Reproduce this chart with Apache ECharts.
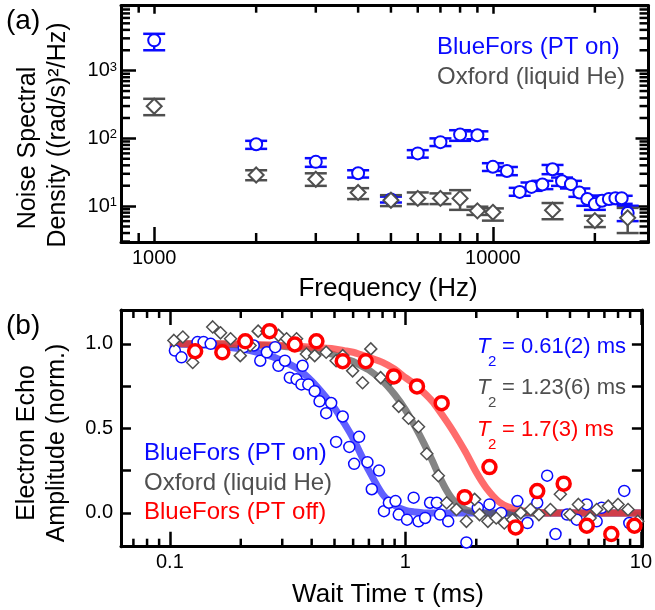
<!DOCTYPE html>
<html>
<head>
<meta charset="utf-8">
<script src="https://cdn.jsdelivr.net/npm/echarts@6.0.0/dist/echarts.min.js"></script>
<style>
html,body{margin:0;padding:0;background:#fff}
#main{width:655px;height:610px}
</style>
</head>
<body>
<div id="main"></div>
<script>
// (a) noise spectral density: [Hz, value, errLow, errHigh]
var blueNoise = [
  [1000, 2800, 2000, 3500], [2000, 82, 70, 92], [3000, 45, 38, 51], [4000, 30.5, 26.4, 33.8],
  [5000, 12.5, 11.3, 13.8], [6000, 60, 52, 67], [7000, 88, 77, 100], [8000, 114, 92, 132],
  [9000, 111, 97, 127], [10000, 38, 33, 43], [11000, 33, 28.6, 37.8], [12000, 16.2, 14.2, 18.6],
  [13000, 19.2, 16.8, 22.3], [14000, 20.9, 17.8, 23.6], [15000, 35, 29.6, 40.5], [16000, 23.3, 19.9, 26.4],
  [17000, 21.1, 18.2, 23.6], [18000, 15.9, 13.7, 18.2], [19000, 12.7, 10.1, 14.2], [20000, 10.7, 8.8, 12.7],
  [21000, 12.0, 10.8, 14.2], [22000, 12.7, 10.8, 14.2], [23000, 13.1, 10.8, 14.2], [24000, 13.1, 10.8, 14.2],
  [25000, 7.9, 6.0, 10.1]
];
var grayNoise = [
  [1000, 298, 220, 384], [2000, 28.8, 24.1, 33.8], [3000, 24.9, 19.9, 30.5], [4000, 15.9, 12.7, 18.4],
  [5000, 12.2, 10.0, 14.5], [6000, 13.0, 10.7, 15.9], [7000, 13.0, 10.7, 15.4], [8000, 13.0, 8.8, 17.2],
  [9000, 8.5, 7.4, 9.8], [10000, 8.1, 6.1, 9.25], [15000, 8.7, 6.4, 11.1], [20000, 6.1, 4.9, 7.2],
  [25000, 6.7, 4.0, 9.4]
];

// (b) echo decay: [ms, amplitude]
var blueEcho = [
  [0.105, 0.96], [0.112, 0.92], [0.131, 1.01], [0.139, 1.01], [0.149, 1.0], [0.167, 0.95], [0.206, 0.98],
  [0.227, 0.99], [0.242, 0.90], [0.258, 0.95], [0.28, 0.98], [0.289, 0.87], [0.308, 0.90], [0.323, 0.80],
  [0.345, 0.79], [0.362, 0.76], [0.366, 0.87], [0.387, 0.76], [0.412, 0.72], [0.432, 0.66], [0.461, 0.59],
  [0.484, 0.65], [0.508, 0.42], [0.542, 0.57], [0.578, 0.39], [0.606, 0.29], [0.636, 0.45], [0.69, 0.30],
  [0.72, 0.14], [0.773, 0.25], [0.811, 0.01], [0.851, 0.06], [0.908, 0.07], [0.937, -0.01], [1.016, -0.04],
  [1.084, 0.09], [1.137, -0.05], [1.213, -0.03], [1.273, 0.06], [1.359, 0.06], [1.403, -0.01], [1.52, -0.05],
  [1.816, -0.175], [2.03, 0.03], [2.275, 0.05], [2.55, 0.0], [2.99, 0.07], [3.30, -0.06], [3.63, 0.06],
  [4.0, 0.22], [4.34, -0.125], [4.86, -0.01], [5.34, -0.04], [5.89, 0.05], [6.49, -0.05], [6.81, 0.03],
  [8.5, 0.13], [8.93, -0.06]
];
var grayEcho = [
  [0.104, 1.02], [0.1135, 1.04], [0.125, 0.89], [0.152, 1.10], [0.164, 1.065], [0.181, 1.03], [0.199, 0.93],
  [0.219, 0.99], [0.237, 1.075], [0.258, 1.075], [0.289, 1.05], [0.313, 1.03], [0.345, 1.03], [0.38, 0.94],
  [0.412, 0.93], [0.461, 0.95], [0.508, 0.90], [0.542, 0.93], [0.597, 0.84], [0.658, 0.77], [0.713, 0.97],
  [0.785, 0.80], [0.865, 0.79], [0.937, 0.63], [1.032, 0.56], [1.137, 0.51], [1.233, 0.35], [1.38, 0.22],
  [1.497, 0.06], [1.648, 0.02], [1.816, -0.05], [1.968, 0.08], [2.065, -0.01], [2.24, -0.05], [2.43, -0.03],
  [2.63, -0.06], [2.85, -0.04], [3.09, 0.0], [3.40, 0.02], [3.69, -0.01], [4.13, 0.02], [4.55, 0.11],
  [5.0, -0.01], [5.43, 0.05], [6.09, -0.03], [6.49, 0.02], [7.27, 0.04], [8.0, 0.05], [8.82, 0.02], [9.7, -0.05]
];
var redEcho = [
  [0.128, 0.956], [0.167, 0.95], [0.209, 1.015], [0.265, 1.075], [0.339, 0.996], [0.419, 1.015],
  [0.542, 0.897], [0.679, 0.897], [0.893, 0.807], [1.12, 0.748], [1.426, 0.649], [1.786, 0.093],
  [2.275, 0.271], [2.94, -0.086], [3.63, 0.129], [4.7, 0.173], [5.89, -0.076], [7.49, -0.125], [9.39, -0.076]
];

// fit curves
var fitTimes = [0.1, 0.15, 0.2, 0.25, 0.3, 0.35, 0.4, 0.45, 0.5, 0.55, 0.6, 0.65, 0.7, 0.8, 0.9, 1.0,
  1.1, 1.2, 1.3, 1.4, 1.5, 1.6, 1.8, 2.0, 2.2, 2.5, 2.8, 3.2, 4, 6, 10];
var blueFit = [1.0, 0.99, 0.97, 0.94, 0.9, 0.85, 0.78, 0.7, 0.62, 0.53, 0.44, 0.34, 0.25, 0.11, 0.045, 0.015,
  0.005, 0, 0, 0, 0, 0, 0, 0, 0, 0, 0, 0, 0, 0, 0];
var grayFit = [1.0, 1.0, 0.995, 0.99, 0.985, 0.975, 0.965, 0.95, 0.935, 0.915, 0.895, 0.87, 0.845, 0.78, 0.70, 0.61,
  0.51, 0.41, 0.31, 0.21, 0.13, 0.075, 0.02, 0.005, 0, 0, 0, 0, 0, 0, 0];
var redFit = [1.0, 1.0, 1.0, 0.995, 0.99, 0.985, 0.98, 0.975, 0.97, 0.96, 0.95, 0.935, 0.92, 0.89, 0.85, 0.80,
  0.76, 0.71, 0.66, 0.6, 0.54, 0.48, 0.36, 0.24, 0.15, 0.065, 0.03, 0.01, 0, 0, 0];

// minor tick values
var freqMinor = [900, 2000, 3000, 4000, 5000, 6000, 7000, 8000, 9000, 20000];
var psdMinor = [3, 4, 5, 6, 7, 8, 9, 20, 30, 40, 50, 60, 70, 80, 90, 200, 300, 400, 500, 600, 700, 800, 900,
  2000, 3000, 4000, 5000, 6000, 7000, 8000, 9000];
var timeMinor = [0.07, 0.08, 0.09, 0.2, 0.3, 0.4, 0.5, 0.6, 0.7, 0.8, 0.9, 2, 3, 4, 5, 6, 7, 8, 9];
var echoTicks = [0, 0.25, 0.5, 0.75, 1];
var echoLabels = [0, 0.5, 1];

var FONT = 'Liberation Sans, Arial, Helvetica, sans-serif';
var BLUE = '#0a0aff', GRAY = '#4f4f4f', RED = '#ff0000';
var rangeFreq = [798, 28800], rangePsd = [2.95, 9100];
var rangeTime = [0.062, 10.1], rangeEcho = [-0.2, 1.2];

var myChart = echarts.init(document.getElementById('main'));

function axis(type, grid, pos, range, label, tickLen) {
  return {
    type: type, gridIndex: grid, position: pos, min: range[0], max: range[1],
    axisLine: {show: true, onZero: false, lineStyle: {color: '#000', width: 3}},
    axisTick: {show: true, inside: true, length: tickLen, lineStyle: {color: '#000', width: 2.5}},
    axisLabel: label ? label : {show: false},
    splitLine: {show: false}
  };
}

var plainLabel = function (fmt, margin) {
  return {show: true, fontSize: 20, fontFamily: FONT, color: '#000', margin: margin,
    showMinLabel: false, showMaxLabel: false, hideOverlap: false, formatter: fmt};
};

var xFreqLabel = plainLabel(function (v) { return String(v); }, 6);
var xTimeLabel = plainLabel(function (v) { return String(v); }, 6);
var yPsdLabel = {
  show: true, margin: 4, showMinLabel: false, showMaxLabel: false,
  formatter: function (v) { return '{b|10}{s|' + Math.round(Math.log10(v)) + '}'; },
  rich: {
    b: {fontSize: 20, fontFamily: FONT, color: '#000'},
    s: {fontSize: 13, fontFamily: FONT, color: '#000', verticalAlign: 'top'}
  }
};
var yEchoLabel = {show: true, fontSize: 20, fontFamily: FONT, color: '#000', margin: 8,
  customValues: echoLabels, formatter: function (v) { return v.toFixed(1); }};

// error bars with wide caps
function errBar(color) {
  return function (params, api) {
    var x = api.value(0);
    var lo = api.coord([x, api.value(1)]);
    var hi = api.coord([x, api.value(2)]);
    var w = 11;
    var st = {stroke: color, lineWidth: 2.5, fill: null};
    return {type: 'group', children: [
      {type: 'line', shape: {x1: lo[0], y1: lo[1], x2: hi[0], y2: hi[1]}, style: st},
      {type: 'line', shape: {x1: lo[0] - w, y1: lo[1], x2: lo[0] + w, y2: lo[1]}, style: st},
      {type: 'line', shape: {x1: hi[0] - w, y1: hi[1], x2: hi[0] + w, y2: hi[1]}, style: st}
    ]};
  };
}

// log minor ticks on both x borders / both y borders
function xMinor(lenBottom, lenTop) {
  return function (params, api) {
    var cs = params.coordSys;
    var x = api.coord([api.value(0), api.value(1)])[0];
    var st = {stroke: '#000', lineWidth: 2.5};
    return {type: 'group', children: [
      {type: 'line', shape: {x1: x, y1: cs.y + cs.height, x2: x, y2: cs.y + cs.height - lenBottom}, style: st},
      {type: 'line', shape: {x1: x, y1: cs.y, x2: x, y2: cs.y + lenTop}, style: st}
    ]};
  };
}
function yMinor(len) {
  return function (params, api) {
    var cs = params.coordSys;
    var y = api.coord([api.value(0), api.value(1)])[1];
    var st = {stroke: '#000', lineWidth: 2.5};
    return {type: 'group', children: [
      {type: 'line', shape: {x1: cs.x, y1: y, x2: cs.x + len, y2: y}, style: st},
      {type: 'line', shape: {x1: cs.x + cs.width, y1: y, x2: cs.x + cs.width - len, y2: y}, style: st}
    ]};
  };
}

function fitLine(values, color) {
  return {
    type: 'line', xAxisIndex: 2, yAxisIndex: 2, smooth: 0.3, showSymbol: false, silent: true,
    data: fitTimes.map(function (t, i) { return [t, values[i]]; }),
    lineStyle: {color: color, width: 7, opacity: 0.72}, z: 1
  };
}

function marks(data, symbol, size, color, width, x, y) {
  return {
    type: 'scatter', xAxisIndex: x, yAxisIndex: y, symbol: symbol, symbolSize: size, data: data,
    itemStyle: {color: '#fff', borderColor: color, borderWidth: width, opacity: 1}, z: 3, silent: true
  };
}

function txt(s, x, y, color, size, extra) {
  var st = {text: s, fill: color, fontSize: size, fontFamily: FONT, align: 'left', verticalAlign: 'middle'};
  for (var k in extra || {}) st[k] = extra[k];
  return {type: 'text', x: x, y: y, style: st, z: 50};
}

var texts = [
  txt('(a)', 6, 21, '#000', 28),
  txt('(b)', 6, 326, '#000', 28),
  {type: 'text', x: 28, y: 148, rotation: Math.PI / 2, style: {text: 'Noise Spectral', fill: '#000', fontSize: 25, fontFamily: FONT, align: 'center', verticalAlign: 'middle'}},
  {type: 'text', x: 58, y: 135, rotation: Math.PI / 2, style: {text: 'Density ((rad/s)\u00b2/Hz)', fill: '#000', fontSize: 25, fontFamily: FONT, align: 'center', verticalAlign: 'middle'}},
  {type: 'text', x: 27, y: 443, rotation: Math.PI / 2, style: {text: 'Electron Echo', fill: '#000', fontSize: 25, fontFamily: FONT, align: 'center', verticalAlign: 'middle'}},
  {type: 'text', x: 57, y: 443, rotation: Math.PI / 2, style: {text: 'Amplitude (norm.)', fill: '#000', fontSize: 25, fontFamily: FONT, align: 'center', verticalAlign: 'middle'}},
  txt('Frequency (Hz)', 388, 289, '#000', 26, {align: 'center'}),
  txt('Wait Time \u03c4 (ms)', 388, 595, '#000', 26, {align: 'center'}),
  txt('BlueFors (PT on)', 437, 47, BLUE, 24),
  txt('Oxford (liquid He)', 437, 77, GRAY, 24),
  txt('BlueFors (PT on)', 144, 453, BLUE, 24),
  txt('Oxford (liquid He)', 144, 483, GRAY, 24),
  txt('BlueFors (PT off)', 144, 512, RED, 24)
];
[['= 0.61(2) ms', 347, BLUE], ['= 1.23(6) ms', 388, GRAY], ['= 1.7(3) ms', 430, RED]].forEach(function (r) {
  texts.push(txt('T', 477, r[1], r[2], 22, {fontStyle: 'italic'}));
  texts.push(txt('2', 488, r[1] + 15, r[2], 15));
  texts.push(txt(r[0], 502, r[1], r[2], 22));
});

myChart.setOption({
  animation: false,
  textStyle: {fontFamily: FONT},
  grid: [
    {left: 121, right: 6.5, top: 5.7, bottom: 368},
    {left: 121, right: 6.5, top: 310, bottom: 63.3}
  ],
  xAxis: [
    axis('log', 0, 'bottom', rangeFreq, xFreqLabel, 15),
    axis('log', 0, 'top', rangeFreq, null, 8),
    axis('log', 1, 'bottom', rangeTime, xTimeLabel, 15),
    axis('log', 1, 'top', rangeTime, null, 15)
  ],
  yAxis: [
    axis('log', 0, 'left', rangePsd, yPsdLabel, 15),
    axis('log', 0, 'right', rangePsd, null, 13),
    (function () { var a = axis('value', 1, 'left', rangeEcho, yEchoLabel, 10); a.axisTick.customValues = echoTicks; return a; })(),
    (function () { var a = axis('value', 1, 'right', rangeEcho, null, 10); a.axisTick.customValues = echoTicks; return a; })()
  ],
  graphic: texts,
  series: [
    {type: 'custom', xAxisIndex: 0, yAxisIndex: 0, renderItem: xMinor(9, 7), silent: true, z: 5,
      data: freqMinor.map(function (v) { return [v, 10]; })},
    {type: 'custom', xAxisIndex: 0, yAxisIndex: 0, renderItem: yMinor(9), silent: true, z: 5,
      data: psdMinor.map(function (v) { return [1000, v]; })},
    {type: 'custom', xAxisIndex: 2, yAxisIndex: 2, renderItem: xMinor(8, 8), silent: true, z: 5,
      data: timeMinor.map(function (v) { return [v, 0]; })},
    {type: 'custom', xAxisIndex: 0, yAxisIndex: 0, renderItem: errBar(BLUE), silent: true, z: 2,
      encode: {x: 0, y: [1, 2]}, data: blueNoise.map(function (d) { return [d[0], d[2], d[3]]; })},
    {type: 'custom', xAxisIndex: 0, yAxisIndex: 0, renderItem: errBar(GRAY), silent: true, z: 2,
      encode: {x: 0, y: [1, 2]}, data: grayNoise.map(function (d) { return [d[0], d[2], d[3]]; })},
    marks(blueNoise.map(function (d) { return [d[0], d[1]]; }), 'circle', 12, BLUE, 2, 0, 0),
    marks(grayNoise.map(function (d) { return [d[0], d[1]]; }), 'diamond', 15, GRAY, 2, 0, 0),
    fitLine(blueFit, '#2222ff'),
    fitLine(grayFit, '#555555'),
    fitLine(redFit, '#ff3333'),
    marks(blueEcho, 'circle', 11, BLUE, 1.5, 2, 2),
    marks(grayEcho, 'diamond', 12, GRAY, 1.5, 2, 2),
    marks(redEcho, 'circle', 13, RED, 3.5, 2, 2)
  ]
});
</script>
</body>
</html>
